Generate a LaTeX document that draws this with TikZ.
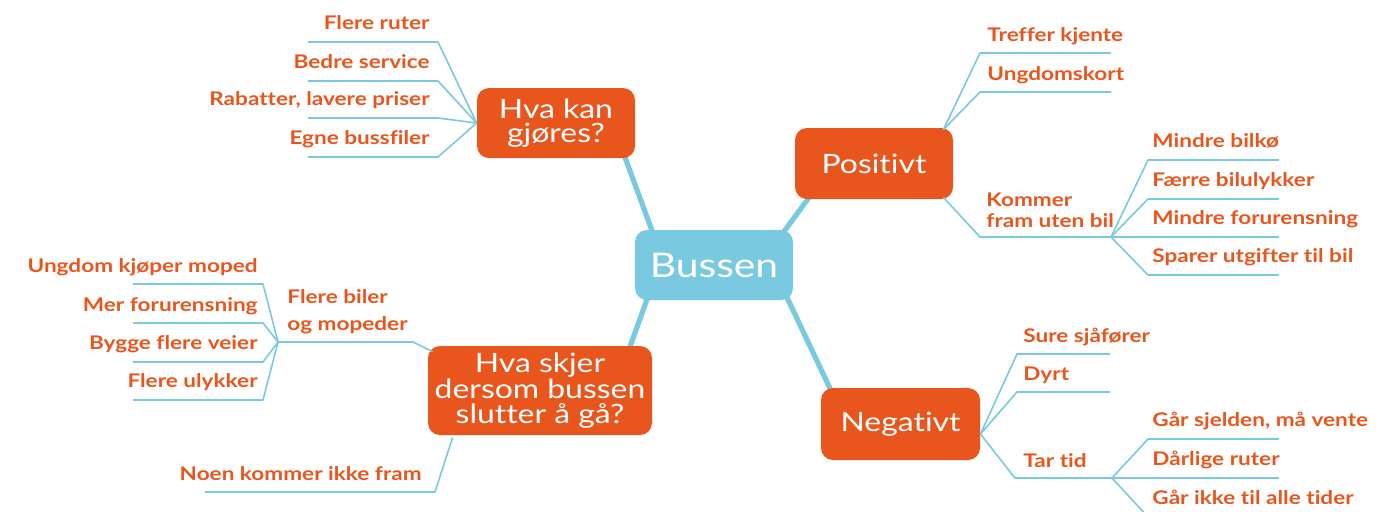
\documentclass[tikz,border=0pt]{standalone}
\usepackage{fontspec}
\setmainfont{Lato}[FakeStretch = 1.2, Ligatures = NoCommon]
\usetikzlibrary{
    calc,        % Offsets from box corners.
    backgrounds, % Thick branches behind the boxes.
}

\definecolor{busblue}{HTML}{79C9E0}
\definecolor{busorange}{HTML}{E8561E}

\tikzset{
    hub/.style = {fill = busblue, text = white, rounded corners = 6pt,
        inner sep = 0pt, font = \fontsize{17}{20}\selectfont},
    topic/.style = {fill = busorange, text = white, rounded corners = 6pt,
        inner sep = 0pt, align = center, font = \fontsize{13.3}{12.2}\selectfont},
    trunk/.style = {draw = busblue, line width = 2.6pt,
        shorten < = -4pt, shorten > = -4pt},
    twig/.style = {draw = busblue, line width = 0.8pt},
    leaf/.style = {text = busorange, inner sep = 0pt,
        font = \bfseries\fontsize{9.4}{10.5}\selectfont},
}

\begin{document}
\begin{tikzpicture}[%
        x = 0.5pt,
        y = -0.5pt,
        line join = round
    ]

    \useasboundingbox (0, 0) rectangle (1397, 511);
    \clip (0, 0) rectangle (1397, 511);

    % The boxes.
    \node[hub, minimum width = 79pt, minimum height = 35pt] (bus) at (714, 265) {Bussen};
    \node[topic, minimum width = 79pt, minimum height = 35pt] (gjores) at (556, 123) {Hva kan\\gjøres?};
    \node[topic, minimum width = 79pt, minimum height = 35.5pt] (pos) at (874, 163.5) {Positivt};
    \node[topic, minimum width = 79.5pt, minimum height = 36pt] (neg) at (900.5, 424) {Negativt};
    \node[topic, minimum width = 112pt, minimum height = 44.5pt] (slutt) at (540, 390.5) {Hva skjer\\dersom bussen\\slutter å gå?};

    % Thick branches from the middle box.
    \begin{scope}[on background layer]
        \draw[trunk] ($(bus.north west) + (17, 0)$) to ($(gjores.south east) + (-10, 0)$);
        \draw[trunk] ($(bus.north east) + (-8, 0)$) to ($(pos.south west) + (13, 0)$);
        \draw[trunk] ($(bus.south east) + (-5, 0)$) to ($(neg.north west) + (9, 0)$);
        \draw[trunk] ($(bus.south west) + (12, 0)$) to ($(slutt.north east) + (-22, 0)$);
    \end{scope}

    % Hva kan gjøres?
    \coordinate (g1) at (438, 42);
    \coordinate (g2) at (438, 81);
    \coordinate (g3) at (438, 118);
    \coordinate (g4) at (438, 157);
    \draw[twig] (gjores.west) to (g1) to (308, 42);
    \draw[twig] (gjores.west) to (g2) to (308, 81);
    \draw[twig] (gjores.west) to (g3) to (308, 118);
    \draw[twig] (gjores.west) to (g4) to (308, 157);
    \node[leaf, anchor = base east] (ruter) at (430, 29) {Flere ruter};
    \node[leaf, anchor = base east] (service) at (430, 68) {Bedre service};
    \node[leaf, anchor = base east] (rabatter) at (430, 105) {Rabatter, lavere priser};
    \node[leaf, anchor = base east] (bussfiler) at (430, 144) {Egne bussfiler};

    % Positivt.
    \coordinate (pos top) at ($(pos.north east) + (-10, 2)$);
    \coordinate (pos low) at ($(pos.south east) + (-10, -2)$);
    \coordinate (kommer) at (1111, 237);
    \draw[twig] (pos top) to (980, 53) to (1111, 53);
    \draw[twig] (pos top) to (980, 92) to (1111, 92);
    \draw[twig] (pos low) to (980, 237) to (kommer);
    \node[leaf, anchor = base west] (kjente) at (987, 41) {Treffer kjente};
    \node[leaf, anchor = base west] (kort) at (987, 80) {Ungdomskort};
    \node[leaf, anchor = south west, align = left] (utenbil) at (986, 228) {Kommer\\fram uten bil};

    \draw[twig] (kommer) to (1148, 160) to (1279, 160);
    \draw[twig] (kommer) to (1148, 199) to (1279, 199);
    \draw[twig] (kommer) to (1279, 237);
    \draw[twig] (kommer) to (1148, 275) to (1279, 275);
    \node[leaf, anchor = base west] (bilko) at (1152, 147) {Mindre bilkø};
    \node[leaf, anchor = base west] (ulykker) at (1152, 186) {Færre bilulykker};
    \node[leaf, anchor = base west] (forurens) at (1152, 224) {Mindre forurensning};
    \node[leaf, anchor = base west] (utgifter) at (1152, 262) {Sparer utgifter til bil};

    % Negativt.
    \coordinate (neg fan) at ($(neg.east) + (0, 10)$);
    \coordinate (tartid) at (1112, 478);
    \draw[twig] (neg fan) to (1017, 354) to (1110, 354);
    \draw[twig] (neg fan) to (1017, 392) to (1110, 392);
    \draw[twig] (neg fan) to (1015, 478) to (tartid);
    \node[leaf, anchor = base west] (sure) at (1023, 342) {Sure sjåfører};
    \node[leaf, anchor = base west] (dyrt) at (1023, 380) {Dyrt};
    \node[leaf, anchor = base west] (tid) at (1023, 467) {Tar tid};

    \draw[twig] (tartid) to (1148, 439) to (1279, 439);
    \draw[twig] (tartid) to (1279, 478);
    \draw[twig] (tartid) to (1148, 517) to (1279, 517);
    \node[leaf, anchor = base west] (sjelden) at (1152, 426) {Går sjelden, må vente};
    \node[leaf, anchor = base west] (darlige) at (1152, 465) {Dårlige ruter};
    \node[leaf, anchor = base west] (tider) at (1152, 504) {Går ikke til alle tider};

    % Hva skjer dersom bussen slutter å gå?
    \coordinate (biler) at (278, 342);
    \draw[twig] ($(slutt.north west) + (5, 6)$) to (413, 342) to (biler);
    \node[leaf, anchor = south west, align = left,
        font = \bfseries\fontsize{9.4}{13.5}\selectfont] (mopeder) at (287, 334) {Flere biler\\og mopeder};

    \draw[twig] (biler) to (263, 284) to (133, 284);
    \draw[twig] (biler) to (263, 323) to (133, 323);
    \draw[twig] (biler) to (263, 362) to (133, 362);
    \draw[twig] (biler) to (263, 400) to (133, 400);
    \node[leaf, anchor = base east] (moped) at (258, 272) {Ungdom kjøper moped};
    \node[leaf, anchor = base east] (merforurens) at (258, 311) {Mer forurensning};
    \node[leaf, anchor = base east] (veier) at (258, 349) {Bygge flere veier};
    \node[leaf, anchor = base east] (flereulykker) at (258, 387) {Flere ulykker};

    \draw[twig] ($(slutt.south west) + (25, 2)$) to (435, 492) to (205, 492);
    \node[leaf, anchor = base east] (fram) at (422, 480) {Noen kommer ikke fram};

\end{tikzpicture}
\end{document}
